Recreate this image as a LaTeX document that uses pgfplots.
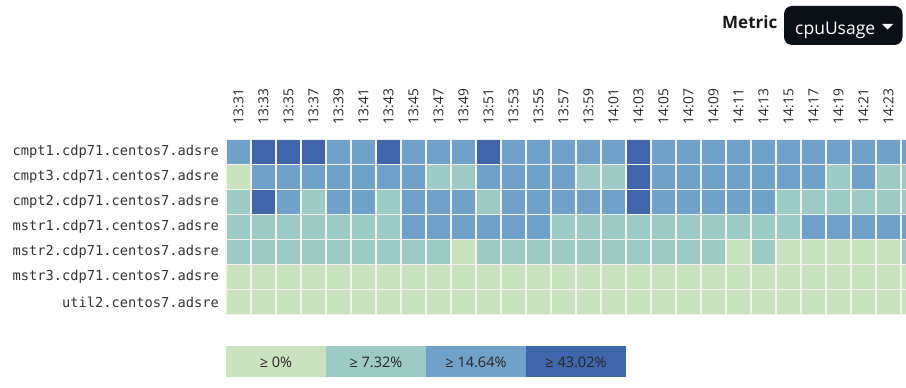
\documentclass[border=0pt]{standalone}
\usepackage{fontspec}
\setmainfont{Open Sans}
\newfontfamily\monof{DejaVu Sans Mono}
\usepackage{pgfplots}
\pgfplotsset{compat=1.18}
\definecolor{cA}{RGB}{202,226,192}
\definecolor{cB}{RGB}{157,202,194}
\definecolor{cC}{RGB}{112,161,201}
\definecolor{cD}{RGB}{64,101,171}
\definecolor{gridc}{RGB}{242,243,234}
\definecolor{btn}{RGB}{11,16,22}
\begin{document}
\begin{tikzpicture}[x=1pt,y=1pt]
\useasboundingbox (0,0) rectangle (906,388);
\begin{axis}[
  at={(226pt,248.5pt)}, anchor=north west,
  width=680pt, height=175pt, scale only axis,
  xmin=-0.5, xmax=26.7, ymin=-0.5, ymax=6.5,
  y dir=reverse,
  colormap={heat}{rgb255=(202,226,192) rgb255=(157,202,194) rgb255=(112,161,201) rgb255=(64,101,171)},
  colormap access=direct,
  axis line style={draw=none},
  major tick length=0pt, minor tick length=0pt,
  xtick={0,...,26},
  xticklabels={13:31,13:33,13:35,13:37,13:39,13:41,13:43,13:45,13:47,13:49,13:51,13:53,13:55,13:57,13:59,14:01,14:03,14:05,14:07,14:09,14:11,14:13,14:15,14:17,14:19,14:21,14:23},
  xticklabel pos=upper,
  xticklabel style={rotate=90, anchor=west, inner sep=0pt, font=\fontsize{13.8}{15}\selectfont, text=black!85, xshift=1pt},
  xticklabel shift=14pt,
  ytick={0,...,6},
  yticklabels={cmpt1.cdp71.centos7.adsre,cmpt3.cdp71.centos7.adsre,cmpt2.cdp71.centos7.adsre,mstr1.cdp71.centos7.adsre,mstr2.cdp71.centos7.adsre,mstr3.cdp71.centos7.adsre,util2.centos7.adsre},
  yticklabel style={anchor=east, inner sep=0pt, font=\monof\fontsize{13.7}{16}\selectfont, text=black!80},
  yticklabel shift=7pt,
  minor xtick={-0.5,0.5,...,27.5},
  minor ytick={-0.5,0.5,...,6.5},
  grid=minor,
  minor grid style={draw=gridc, line width=1.3pt},
  axis on top,
]
\addplot[matrix plot*, mesh/cols=28, point meta=explicit] table[meta=c, row sep=\\] {
x y c\\
0 0 2\\ 1 0 3\\ 2 0 3\\ 3 0 3\\ 4 0 2\\ 5 0 2\\ 6 0 3\\ 7 0 2\\ 8 0 2\\ 9 0 2\\ 10 0 3\\ 11 0 2\\ 12 0 2\\ 13 0 2\\ 14 0 2\\ 15 0 2\\ 16 0 3\\ 17 0 2\\ 18 0 2\\ 19 0 2\\ 20 0 2\\ 21 0 2\\ 22 0 2\\ 23 0 2\\ 24 0 2\\ 25 0 2\\ 26 0 2\\ 27 0 2\\
0 1 0\\ 1 1 2\\ 2 1 2\\ 3 1 2\\ 4 1 2\\ 5 1 2\\ 6 1 2\\ 7 1 2\\ 8 1 1\\ 9 1 1\\ 10 1 2\\ 11 1 2\\ 12 1 2\\ 13 1 2\\ 14 1 1\\ 15 1 1\\ 16 1 3\\ 17 1 2\\ 18 1 2\\ 19 1 2\\ 20 1 2\\ 21 1 2\\ 22 1 2\\ 23 1 2\\ 24 1 1\\ 25 1 2\\ 26 1 1\\ 27 1 1\\
0 2 1\\ 1 2 3\\ 2 2 2\\ 3 2 1\\ 4 2 2\\ 5 2 2\\ 6 2 1\\ 7 2 2\\ 8 2 2\\ 9 2 2\\ 10 2 1\\ 11 2 2\\ 12 2 2\\ 13 2 2\\ 14 2 2\\ 15 2 2\\ 16 2 3\\ 17 2 2\\ 18 2 2\\ 19 2 2\\ 20 2 2\\ 21 2 2\\ 22 2 1\\ 23 2 1\\ 24 2 1\\ 25 2 1\\ 26 2 1\\ 27 2 1\\
0 3 1\\ 1 3 1\\ 2 3 1\\ 3 3 1\\ 4 3 1\\ 5 3 1\\ 6 3 1\\ 7 3 2\\ 8 3 2\\ 9 3 2\\ 10 3 2\\ 11 3 2\\ 12 3 2\\ 13 3 1\\ 14 3 1\\ 15 3 1\\ 16 3 1\\ 17 3 1\\ 18 3 1\\ 19 3 1\\ 20 3 1\\ 21 3 1\\ 22 3 1\\ 23 3 2\\ 24 3 2\\ 25 3 2\\ 26 3 2\\ 27 3 2\\
0 4 1\\ 1 4 1\\ 2 4 1\\ 3 4 1\\ 4 4 1\\ 5 4 1\\ 6 4 1\\ 7 4 1\\ 8 4 1\\ 9 4 0\\ 10 4 1\\ 11 4 1\\ 12 4 1\\ 13 4 1\\ 14 4 1\\ 15 4 1\\ 16 4 1\\ 17 4 1\\ 18 4 1\\ 19 4 1\\ 20 4 0\\ 21 4 1\\ 22 4 0\\ 23 4 0\\ 24 4 0\\ 25 4 0\\ 26 4 0\\ 27 4 1\\
0 5 0\\ 1 5 0\\ 2 5 0\\ 3 5 0\\ 4 5 0\\ 5 5 0\\ 6 5 0\\ 7 5 0\\ 8 5 0\\ 9 5 0\\ 10 5 0\\ 11 5 0\\ 12 5 0\\ 13 5 0\\ 14 5 0\\ 15 5 0\\ 16 5 0\\ 17 5 0\\ 18 5 0\\ 19 5 0\\ 20 5 0\\ 21 5 0\\ 22 5 0\\ 23 5 0\\ 24 5 0\\ 25 5 0\\ 26 5 0\\ 27 5 0\\
0 6 0\\ 1 6 0\\ 2 6 0\\ 3 6 0\\ 4 6 0\\ 5 6 0\\ 6 6 0\\ 7 6 0\\ 8 6 0\\ 9 6 0\\ 10 6 0\\ 11 6 0\\ 12 6 0\\ 13 6 0\\ 14 6 0\\ 15 6 0\\ 16 6 0\\ 17 6 0\\ 18 6 0\\ 19 6 0\\ 20 6 0\\ 21 6 0\\ 22 6 0\\ 23 6 0\\ 24 6 0\\ 25 6 0\\ 26 6 0\\ 27 6 0\\
};
\end{axis}
% legend key
\fill[cA] (226,11) rectangle (326,42);
\fill[cB] (326,11) rectangle (426,42);
\fill[cC] (426,11) rectangle (526,42);
\fill[cD] (526,11) rectangle (626,42);
\begin{scope}[every node/.style={font=\fontsize{14.5}{16}\selectfont, text=black!85}]
\node at (276,26) {≥ 0\%};
\node at (376,26) {≥ 7.32\%};
\node at (476,26) {≥ 14.64\%};
\node at (576,26) {≥ 43.02\%};
\end{scope}
% header
\node[anchor=base west, inner sep=0pt, font=\bfseries\fontsize{17}{20}\selectfont, text=black!90] at (722,359.7) {Metric};
\fill[btn, rounded corners=8pt] (784,382) rectangle (902.5,343);
\node[anchor=base west, inner sep=0pt, font=\fontsize{17.5}{20}\selectfont, text=white] at (795,353.7) {cpuUsage};
\fill[white] (882,364) -- (893,364) -- (887.5,358.5) -- cycle;
\end{tikzpicture}
\end{document}
